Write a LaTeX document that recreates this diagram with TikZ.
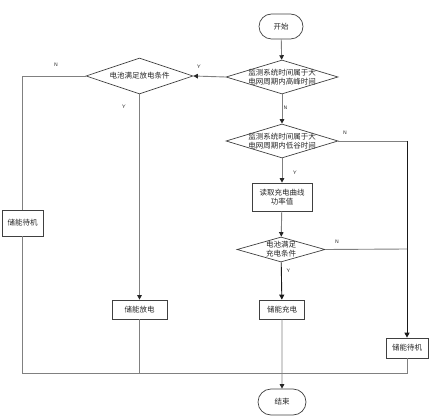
\documentclass[tikz,border=0pt]{standalone}
\usepackage{fontspec}
\newfontfamily\cjk{Noto Sans CJK SC}
\usetikzlibrary{arrows.meta,shapes.geometric,shapes.misc}
\begin{document}
\begin{tikzpicture}[x=1pt,y=-1pt,
  every node/.style={font=\cjk\fontsize{7.5}{9}\selectfont, text=black!85},
  conn/.style={draw=black!50, line width=0.9pt},
  arr/.style={conn, -{Triangle[length=4.5pt,width=4.5pt,color=black!85]}},
  blk/.style={draw=black!90, line width=0.9pt},
  blkarr/.style={blk, -{Triangle[length=5pt,width=5pt]}},
  term/.style={draw=black!75, line width=0.7pt, rounded rectangle, minimum width=#1, minimum height=25pt, inner sep=0pt},
  procbox/.style={draw=black!75, line width=0.7pt, rectangle, inner sep=0pt, align=center},
  dec/.style={draw=black!75, line width=0.7pt, diamond, inner sep=0pt, align=center},
  yn/.style={font=\sffamily\fontsize{5}{6}\selectfont, text=black!85, inner sep=0pt}
]
\useasboundingbox (0,0) rectangle (430,419);

\node[term=44pt] (start) at (281,26.5) {开始};
\node[dec, minimum width=112pt, minimum height=34pt,
      label={[align=center, font=\cjk\fontsize{7.5}{9}\selectfont]center:监测系统时间属于大\\电网周期内高峰时间}] (d1) at (282,77) {};
\node[dec, minimum width=112pt, minimum height=34pt,
      label={[align=center, font=\cjk\fontsize{7.5}{9}\selectfont]center:监测系统时间属于大\\电网周期内低谷时间}] (d2) at (282,141) {};
\node[procbox, minimum width=60pt, minimum height=28pt] (read) at (282,197) {读取充电曲线\\功率值};
\node[dec, minimum width=88pt, minimum height=25pt,
      label={[align=center, font=\cjk\fontsize{7.5}{9}\selectfont]center:电池满足\\充电条件}] (d3) at (281,249.5) {};
\node[procbox, minimum width=45pt, minimum height=19pt] (charge) at (282,309.5) {储能充电};
\node[procbox, minimum width=42pt, minimum height=20pt] (sbR) at (407,348) {储能待机};
\node[term=48pt, minimum height=26pt] (endn) at (282,402) {结束};
\node[dec, minimum width=107pt, minimum height=36pt,
      label={[font=\cjk\fontsize{7.5}{9}\selectfont]center:电池满足放电条件}] (dd) at (139.5,76) {};
\node[procbox, minimum width=55pt, minimum height=19pt] (dis) at (139.5,309.5) {储能放电};
\node[procbox, minimum width=41pt, minimum height=26pt] (sbL) at (22.5,223) {储能待机};

\coordinate (jR1) at (407,141);
\coordinate (jR2) at (407,249);
\coordinate (jL) at (22.5,76);
\coordinate (bL) at (22.5,373);
\coordinate (bR) at (407,373);
\coordinate (bD) at (139.5,373);

\draw[arr] (start) -- (d1);
\draw[arr] (d1) -- (d2);
\draw[arr] (d1.west) -- (dd.east);
\draw[conn] (d2.east) -- (jR1);
\draw[blkarr] (jR1) -- (sbR.north);
\draw[arr] (d2) -- (read);
\draw[arr] (read) -- (d3);
\draw[conn] (d3.east) -- (jR2);
\draw[blkarr] (d3) -- (charge);
\draw[arr] (charge) -- (endn);
\draw[conn] (dd.west) -- (jL) -- (sbL.north);
\draw[arr] (dd) -- (dis);
\draw[conn] (dis.south) -- (bD);
\draw[conn] (sbL.south) -- (bL) -- (bR) -- (sbR.south);

\node[yn] (n1) at (285.5,108) {N};
\node[yn] (y1) at (199,67) {Y};
\node[yn] (n2) at (345,133) {N};
\node[yn] (y2) at (295,173) {Y};
\node[yn] (n3) at (337,242) {N};
\node[yn] (y3) at (288.5,271) {Y};
\node[yn] (n4) at (56,65) {N};
\node[yn] (y4) at (124,107) {Y};
\end{tikzpicture}
\end{document}
